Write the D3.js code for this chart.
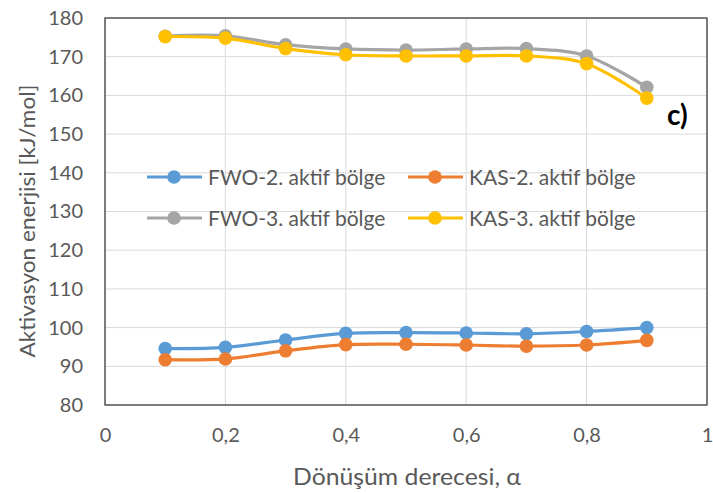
<!DOCTYPE html>
<html>
<head>
<meta charset="utf-8">
<script src="https://cdn.jsdelivr.net/npm/d3@7"></script>
<style>
  html, body { margin: 0; padding: 0; background: #fff; }
  svg { display: block; }
  text { font-family: Lato, "Open Sans", sans-serif; fill: #595959; }
</style>
</head>
<body>
<svg id="chart" width="713" height="493"></svg>
<script>
// Conversion degree (alpha) and activation energies in kJ/mol
const alpha = [0.1, 0.2, 0.3, 0.4, 0.5, 0.6, 0.7, 0.8, 0.9];
const fwo2 = [94.6, 94.9, 96.8, 98.5, 98.7, 98.6, 98.4, 99.0, 100.0];
const kas2 = [91.7, 91.9, 94.0, 95.6, 95.7, 95.5, 95.2, 95.5, 96.7];
const fwo3 = [175.3, 175.4, 173.1, 172.0, 171.7, 172.0, 172.1, 170.2, 162.1];
const kas3 = [175.2, 174.8, 172.1, 170.5, 170.2, 170.2, 170.2, 168.2, 159.3];

const seriesNames = ["FWO-2. aktif bölge", "KAS-2. aktif bölge", "FWO-3. aktif bölge", "KAS-3. aktif bölge"];
const seriesColors = ["#5B9BD5", "#ED7D31", "#A5A5A5", "#FFC000"];
const seriesValues = [fwo2, kas2, fwo3, kas3];

const xTicks = [0, 0.2, 0.4, 0.6, 0.8, 1];
const yTicks = [80, 90, 100, 110, 120, 130, 140, 150, 160, 170, 180];

const svg = d3.select("#chart");
const plot = { left: 105, right: 707, top: 18, bottom: 405 };

const x = d3.scaleLinear().domain([0, 1]).range([plot.left, plot.right]);
const y = d3.scaleLinear().domain([80, 180]).range([plot.bottom, plot.top]);

const fmt = v => String(v).replace(".", ",");
const fontFamily = "Lato, 'Open Sans', sans-serif";

// gridlines
const grid = svg.append("g");
grid.selectAll("line.h").data(yTicks).join("line")
  .attr("x1", plot.left).attr("x2", plot.right)
  .attr("y1", d => y(d)).attr("y2", d => y(d))
  .attr("stroke", "#d9d9d9").attr("stroke-width", 1);
grid.selectAll("line.v").data(xTicks).join("line")
  .attr("y1", plot.top).attr("y2", plot.bottom)
  .attr("x1", d => x(d)).attr("x2", d => x(d))
  .attr("stroke", "#d9d9d9").attr("stroke-width", 1);

// axes (labels only, no tick marks)
const yAxis = d3.axisLeft(y).tickValues(yTicks).tickSize(0).tickPadding(22);
svg.append("g").attr("transform", `translate(${plot.left},0)`).call(yAxis)
  .call(g => g.select(".domain").remove())
  .selectAll("text").attr("font-size", 20).style("fill", "#595959")
  .style("font-family", fontFamily);

const xAxis = d3.axisBottom(x).tickValues(xTicks).tickFormat(fmt).tickSize(0).tickPadding(23);
svg.append("g").attr("transform", `translate(0,${plot.bottom})`).call(xAxis)
  .call(g => g.select(".domain").remove())
  .selectAll("text").attr("font-size", 20).style("fill", "#595959")
  .style("font-family", fontFamily);

// plot frame
svg.append("rect")
  .attr("x", plot.left).attr("y", plot.top)
  .attr("width", plot.right - plot.left).attr("height", plot.bottom - plot.top)
  .attr("fill", "none").attr("stroke", "#404040").attr("stroke-width", 1.3);

// series
const line = d3.line().x((d, i) => x(alpha[i])).y(d => y(d)).curve(d3.curveCatmullRom.alpha(0.5));
seriesValues.forEach((vals, k) => {
  const g = svg.append("g");
  g.append("path").datum(vals).attr("d", line)
    .attr("fill", "none").attr("stroke", seriesColors[k]).attr("stroke-width", 3.2);
  g.selectAll("circle").data(vals).join("circle")
    .attr("cx", (d, i) => x(alpha[i])).attr("cy", d => y(d)).attr("r", 6.8)
    .attr("fill", seriesColors[k]);
});

// legend
const legendPos = [[147, 177], [408, 177], [147, 218], [408, 218]];
seriesNames.forEach((name, k) => {
  const [lx, ly] = legendPos[k];
  const g = svg.append("g").attr("transform", `translate(${lx},${ly})`);
  g.append("line").attr("x1", 0).attr("x2", 55).attr("y1", 0).attr("y2", 0)
    .attr("stroke", seriesColors[k]).attr("stroke-width", 3.2);
  g.append("circle").attr("cx", 27).attr("cy", 0).attr("r", 6.8).attr("fill", seriesColors[k]);
  g.append("text").attr("x", 61).attr("y", 7.5).attr("font-size", 21).text(name);
});

// axis titles
svg.append("text").attr("x", 407).attr("y", 485)
  .attr("text-anchor", "middle").attr("font-size", 23)
  .attr("textLength", 228).attr("lengthAdjust", "spacingAndGlyphs")
  .text("Dönüşüm derecesi, α");
svg.append("text")
  .attr("transform", `translate(35,221) rotate(-90)`)
  .attr("text-anchor", "middle").attr("font-size", 21)
  .attr("textLength", 273).attr("lengthAdjust", "spacingAndGlyphs")
  .text("Aktivasyon enerjisi [kJ/mol]");

// panel tag
svg.append("text").attr("x", 667).attr("y", 125).attr("font-size", 28)
  .attr("font-weight", "bold").style("fill", "#000").text("c)");
</script>
</body>
</html>
